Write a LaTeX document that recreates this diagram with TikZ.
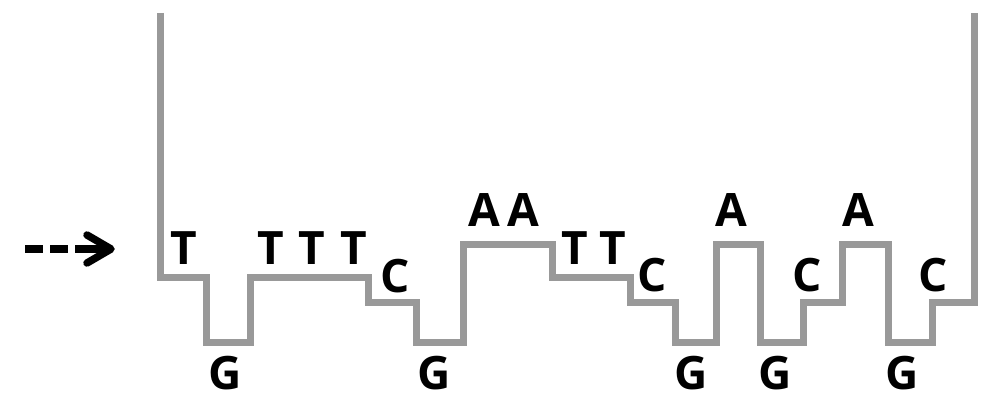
\documentclass[tikz,border=0pt]{standalone}
\usepackage{fontspec}
\setmainfont{Open Sans}
\definecolor{strandgray}{HTML}{999999}
\begin{document}
\begin{tikzpicture}[x=1pt,y=-1pt,
  strand/.style={draw=strandgray,line width=7pt,line join=miter},
  base/.style={font=\fontsize{46}{50}\selectfont\bfseries,text=black,inner sep=0pt,anchor=center},
  flow/.style={draw=black,line width=7.5pt}]
\useasboundingbox (0,0) rectangle (986,404);
% strand outline
\draw[strand] (160,13) -- (160,277) -- (206,277) -- (206,342) -- (250,342) -- (250,277)
  -- (368,277) -- (368,302) -- (416,302) -- (416,342) -- (463,342) -- (463,244)
  -- (552,244) -- (552,277) -- (630,277) -- (630,302) -- (675,302) -- (675,342)
  -- (716,342) -- (716,244) -- (760,244) -- (760,342) -- (803,342) -- (803,302)
  -- (842,302) -- (842,244) -- (888,244) -- (888,342) -- (932,342) -- (932,302)
  -- (974,302) -- (974,13);
% bases
\node[base] (t1) at (184,248) {T};
\node[base] (g1) at (225,373) {G};
\node[base] (t2) at (271,248) {T};
\node[base] (t3) at (312,248) {T};
\node[base] (t4) at (354,248) {T};
\node[base] (c1) at (395,276) {C};
\node[base] (g2) at (434,373) {G};
\node[base] (a1) at (484,210) {A};
\node[base] (a2) at (523,210) {A};
\node[base] (t5) at (575,248) {T};
\node[base] (t6) at (613,248) {T};
\node[base] (c2) at (652,275) {C};
\node[base] (g3) at (691,373) {G};
\node[base] (a3) at (731,210) {A};
\node[base] (g4) at (775,373) {G};
\node[base] (c3) at (807,275) {C};
\node[base] (a4) at (858,210) {A};
\node[base] (g5) at (902,373) {G};
\node[base] (c4) at (933,275) {C};
% direction arrow
\coordinate (as) at (25,249);
\coordinate (ae) at (111,249);
\coordinate (hu) at (87,235);
\coordinate (hd) at (87,263);
\draw[flow,dash pattern=on 18pt off 7pt on 18pt off 7pt on 40pt off 10pt] (as) -- (ae);
\draw[flow,line cap=round,line join=round] (hu) -- (ae) -- (hd);
\end{tikzpicture}
\end{document}
